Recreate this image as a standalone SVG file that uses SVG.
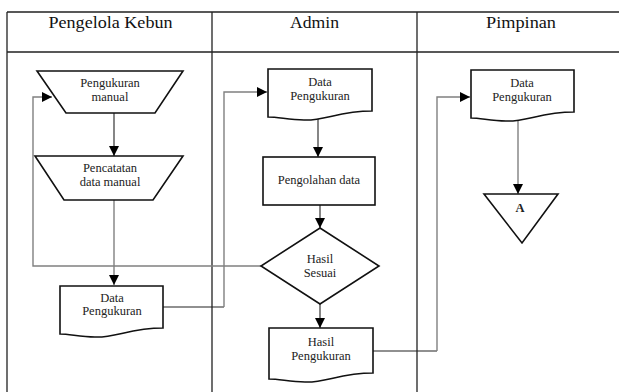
<svg xmlns="http://www.w3.org/2000/svg" width="619" height="392" viewBox="0 0 619 392">
<style>
.frame{stroke:#222;stroke-width:1.3;fill:none}
.shape{fill:#fff;stroke:#111;stroke-width:1.6}
.hd{font-family:'Liberation Serif','DejaVu Serif','Times New Roman',serif;font-size:16px;fill:#111;text-anchor:middle}
.t{font-family:'Liberation Serif','DejaVu Serif','Times New Roman',serif;font-size:12.5px;fill:#222;text-anchor:middle}
.c{fill:none;stroke:#222;stroke-width:1.1}
.g{fill:none;stroke:#808080;stroke-width:1.4}
</style>
<defs>
<marker id="ah" viewBox="0 0 10 10" refX="10" refY="5" markerWidth="10" markerHeight="10" markerUnits="userSpaceOnUse" orient="auto">
<path d="M0,0 L10,5 L0,10 Z" fill="#000"/>
</marker>
</defs>
<rect width="619" height="392" fill="#fff"/>
<g id="table">
<path class="frame" d="M7,12 H619 M7,52 H619 M7,12 V392 M212,12 V392 M417,12 V392"/>
<text class="hd" x="110.5" y="28" textLength="124" lengthAdjust="spacingAndGlyphs">Pengelola Kebun</text>
<text class="hd" x="314.5" y="28" textLength="49" lengthAdjust="spacingAndGlyphs">Admin</text>
<text class="hd" x="521" y="28" textLength="70" lengthAdjust="spacingAndGlyphs">Pimpinan</text>
</g>
<g id="connectors">
<path class="c" d="M114,113 V156" marker-end="url(#ah)"/>
<path class="g" d="M114,200 V285" marker-end="url(#ah)"/>
<path class="g" d="M261,266 H33 V97 H52" marker-end="url(#ah)"/>
<path class="c" d="M163,307 H224"/>
<path class="g" d="M224,307 V92 H267" marker-end="url(#ah)"/>
<path class="c" d="M318,116 V157" marker-end="url(#ah)"/>
<path class="c" d="M320,205 V228" marker-end="url(#ah)"/>
<path class="c" d="M320,304 V328" marker-end="url(#ah)"/>
<path class="c" d="M373,351 H437"/>
<path class="g" d="M437,351 V97 H470" marker-end="url(#ah)"/>
<path class="g" d="M518,121 V194" marker-end="url(#ah)"/>
</g>
<g id="pengukuran-manual">
<path class="shape" d="M37,71 H183 L155,113 H66 Z"/>
<text class="t" x="110" y="87">Pengukuran</text>
<text class="t" x="110" y="101">manual</text>
</g>
<g id="pencatatan-data-manual">
<path class="shape" d="M35,156 H183 L153,200 H64 Z"/>
<text class="t" x="110" y="172">Pencatatan</text>
<text class="t" x="110" y="186">data manual</text>
</g>
<g id="data-pengukuran-1">
<path class="shape" d="M60,286 H163 V328 C130,328 115,338 95,337 C80,337 70,334 60,334 Z"/>
<text class="t" x="112" y="302">Data</text>
<text class="t" x="112" y="315">Pengukuran</text>
</g>
<g id="data-pengukuran-2">
<path class="shape" d="M268,69 H372 V111 C339,111 324,121 304,120 C289,120 279,117 268,117 Z"/>
<text class="t" x="320" y="86">Data</text>
<text class="t" x="320" y="100">Pengukuran</text>
</g>
<g id="pengolahan-data">
<rect class="shape" x="263" y="157" width="112" height="48"/>
<text class="t" x="319" y="184">Pengolahan data</text>
</g>
<g id="hasil-sesuai">
<path class="shape" d="M320,228 L379,266 L320,304 L261,266 Z"/>
<text class="t" x="320" y="263">Hasil</text>
<text class="t" x="320" y="277">Sesuai</text>
</g>
<g id="hasil-pengukuran">
<path class="shape" d="M269,328 H373 V373 C340,373 325,383 305,382 C290,382 280,379 269,379 Z"/>
<text class="t" x="321" y="346">Hasil</text>
<text class="t" x="321" y="360">Pengukuran</text>
</g>
<g id="data-pengukuran-3">
<path class="shape" d="M471,70 H574 V112 C541,112 526,122 506,121 C491,121 481,118 471,118 Z"/>
<text class="t" x="522" y="87">Data</text>
<text class="t" x="522" y="101">Pengukuran</text>
</g>
<g id="connector-a">
<path class="shape" d="M484,194 H558 L522,243 Z"/>
<text class="t" x="520" y="212" font-weight="bold">A</text>
</g>
</svg>
